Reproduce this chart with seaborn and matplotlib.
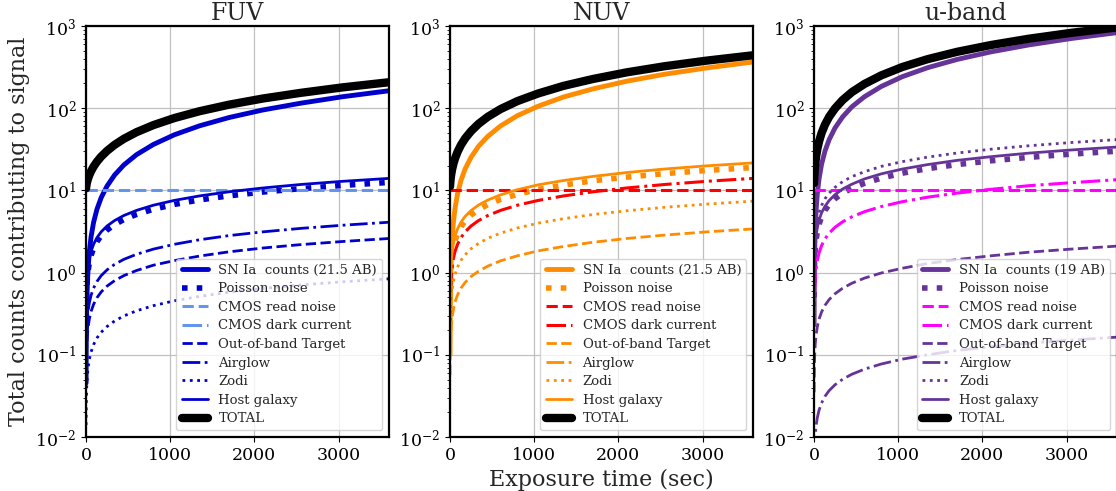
import numpy as np
import pandas as pd
import matplotlib
matplotlib.use("Agg")
import matplotlib.pyplot as plt
import seaborn as sns

# ---------------- data ----------------
times = [1, 3, 8, 15, 25, 40, 60, 90, 130, 180, 250, 340, 450, 600, 800,
         1050, 1350, 1700, 2100, 2550, 3050, 3600]

series_labels = ["SN Ia  counts", "Poisson noise", "CMOS read noise", "CMOS dark current",
                 "Out-of-band Target", "Airglow", "Zodi", "Host galaxy", "TOTAL"]
band_titles = ["FUV", "NUV", "u-band"]
sn_mags = ["21.5 AB", "21.5 AB", "19 AB"]

# FUV
fuv_sn = [0.0453, 0.136, 0.362, 0.679, 1.13, 1.81, 2.72, 4.08, 5.89, 8.15, 11.3,
          15.4, 20.4, 27.2, 36.2, 47.5, 61.1, 77.0, 95.1, 115, 138, 163]
fuv_poisson = [0.208, 0.361, 0.589, 0.807, 1.04, 1.32, 1.61, 1.98, 2.38, 2.80, 3.29,
               3.84, 4.42, 5.10, 5.89, 6.75, 7.66, 8.59, 9.55, 10.5, 11.5, 12.5]
fuv_read = [10, 10, 10, 10, 10, 10, 10, 10, 10, 10, 10,
            10, 10, 10, 10, 10, 10, 10, 10, 10, 10, 10]
fuv_dark = [0.0001, 0.00017, 0.00028, 0.00039, 0.0005, 0.00063, 0.00077, 0.00095, 0.00114, 0.00134, 0.00158,
            0.00184, 0.00212, 0.00245, 0.00283, 0.00324, 0.00367, 0.00412, 0.00458, 0.00505, 0.00552, 0.006]
fuv_oob = [0.0433, 0.0751, 0.123, 0.168, 0.217, 0.274, 0.336, 0.411, 0.494, 0.581, 0.685,
           0.799, 0.919, 1.06, 1.23, 1.40, 1.59, 1.79, 1.99, 2.19, 2.39, 2.6]
fuv_airglow = [0.0683, 0.118, 0.193, 0.265, 0.342, 0.432, 0.529, 0.648, 0.779, 0.917, 1.08,
               1.26, 1.45, 1.67, 1.93, 2.21, 2.51, 2.82, 3.13, 3.45, 3.77, 4.1]
fuv_zodi = [0.0140, 0.0243, 0.0396, 0.0542, 0.0700, 0.0885, 0.108, 0.133, 0.160, 0.188, 0.221,
            0.258, 0.297, 0.343, 0.396, 0.454, 0.514, 0.577, 0.642, 0.707, 0.773, 0.84]
fuv_host = [0.233, 0.404, 0.660, 0.904, 1.17, 1.48, 1.81, 2.21, 2.66, 3.13, 3.69,
            4.30, 4.95, 5.71, 6.60, 7.56, 8.57, 9.62, 10.7, 11.8, 12.9, 14.0]
fuv_total = [10.61, 11.12, 11.97, 12.88, 13.97, 15.40, 17.12, 19.46, 22.36, 25.76, 30.27,
             35.86, 42.44, 51.1, 62.25, 75.89, 91.95, 110.4, 131.1, 153.7, 179.3, 207.0]

# NUV
nuv_sn = [0.101, 0.304, 0.811, 1.52, 2.53, 4.06, 6.08, 9.13, 13.2, 18.3, 25.3,
          34.5, 45.6, 60.8, 81.1, 106, 137, 172, 213, 259, 309, 365]
nuv_poisson = [0.317, 0.549, 0.896, 1.23, 1.58, 2.00, 2.45, 3.00, 3.61, 4.25, 5.01,
               5.84, 6.72, 7.76, 8.96, 10.3, 11.6, 13.1, 14.5, 16.0, 17.5, 19.0]
nuv_read = [10, 10, 10, 10, 10, 10, 10, 10, 10, 10, 10,
            10, 10, 10, 10, 10, 10, 10, 10, 10, 10, 10]
nuv_dark = [0.233, 0.404, 0.660, 0.904, 1.17, 1.48, 1.81, 2.21, 2.66, 3.13, 3.69,
            4.30, 4.95, 5.71, 6.60, 7.56, 8.57, 9.62, 10.7, 11.8, 12.9, 14.0]
nuv_oob = [0.0567, 0.0981, 0.160, 0.219, 0.283, 0.358, 0.439, 0.538, 0.646, 0.760, 0.896,
           1.04, 1.20, 1.39, 1.60, 1.84, 2.08, 2.34, 2.60, 2.86, 3.13, 3.4]
nuv_airglow = [0.0001, 0.00017, 0.00028, 0.00039, 0.0005, 0.00063, 0.00077, 0.00095, 0.00114, 0.00134, 0.00158,
               0.00184, 0.00212, 0.00245, 0.00283, 0.00324, 0.00367, 0.00412, 0.00458, 0.00505, 0.00552, 0.006]
nuv_zodi = [0.123, 0.214, 0.349, 0.478, 0.617, 0.780, 0.955, 1.17, 1.41, 1.65, 1.95,
            2.27, 2.62, 3.02, 3.49, 4.00, 4.53, 5.09, 5.65, 6.23, 6.81, 7.4]
nuv_host = [0.360, 0.624, 1.02, 1.39, 1.80, 2.28, 2.79, 3.41, 4.10, 4.83, 5.69,
            6.64, 7.64, 8.82, 10.2, 11.7, 13.2, 14.8, 16.5, 18.2, 19.9, 21.6]
nuv_total = [11.19, 12.19, 13.89, 15.74, 17.98, 20.95, 24.52, 29.47, 35.63, 42.92, 52.53,
             64.6, 78.73, 97.5, 121.9, 151.3, 187.1, 226.9, 273.0, 324.0, 379.2, 440.4]

# u-band
u_sn = [0.231, 0.692, 1.84, 3.46, 5.76, 9.22, 13.8, 20.8, 30.0, 41.5, 57.6,
        78.4, 104, 138, 184, 242, 311, 392, 484, 588, 703, 830]
u_poisson = [0.500, 0.866, 1.41, 1.94, 2.50, 3.16, 3.87, 4.74, 5.70, 6.71, 7.91,
             9.22, 10.6, 12.2, 14.1, 16.2, 18.4, 20.6, 22.9, 25.2, 27.6, 30.0]
u_read = [10, 10, 10, 10, 10, 10, 10, 10, 10, 10, 10,
          10, 10, 10, 10, 10, 10, 10, 10, 10, 10, 10]
u_dark = [0.225, 0.390, 0.636, 0.871, 1.12, 1.42, 1.74, 2.13, 2.57, 3.02, 3.56,
          4.15, 4.77, 5.51, 6.36, 7.29, 8.27, 9.28, 10.3, 11.4, 12.4, 13.5]
u_oob = [0.0350, 0.0606, 0.0990, 0.136, 0.175, 0.221, 0.271, 0.332, 0.399, 0.470, 0.553,
         0.645, 0.743, 0.857, 0.990, 1.13, 1.29, 1.44, 1.60, 1.77, 1.93, 2.1]
u_airglow = [0.00273, 0.00473, 0.00773, 0.0106, 0.0137, 0.0173, 0.0212, 0.0259, 0.0312, 0.0367, 0.0432,
             0.0504, 0.0580, 0.0669, 0.0773, 0.0886, 0.100, 0.113, 0.125, 0.138, 0.151, 0.164]
u_zodi = [0.692, 1.20, 1.96, 2.68, 3.46, 4.37, 5.36, 6.56, 7.89, 9.28, 10.9,
          12.8, 14.7, 16.9, 19.6, 22.4, 25.4, 28.5, 31.7, 34.9, 38.2, 41.5]
u_host = [0.562, 0.973, 1.59, 2.18, 2.81, 3.55, 4.35, 5.33, 6.40, 7.54, 8.88,
          10.4, 11.9, 13.8, 15.9, 18.2, 20.6, 23.2, 25.7, 28.4, 31.0, 33.7]
u_total = [12.25, 14.18, 17.54, 21.27, 25.84, 31.97, 39.42, 49.92, 62.98, 78.55, 99.47,
           125.6, 156.8, 197.4, 251.0, 317.3, 395.1, 485.1, 586.4, 699.8, 824.3, 961]

bands = [
    [fuv_sn, fuv_poisson, fuv_read, fuv_dark, fuv_oob, fuv_airglow, fuv_zodi, fuv_host, fuv_total],
    [nuv_sn, nuv_poisson, nuv_read, nuv_dark, nuv_oob, nuv_airglow, nuv_zodi, nuv_host, nuv_total],
    [u_sn, u_poisson, u_read, u_dark, u_oob, u_airglow, u_zodi, u_host, u_total],
]

# ---------------- styles ----------------
main_colors = ["#0000CD", "#FF8C00", "#663399"]
cmos_colors = ["#6495ED", "#FF0000", "#FF00FF"]
linestyles = ["-", ":", "--", "-.", "--", "-.", ":", "-", "-"]
linewidths = [3.5, 4.0, 2.2, 2.2, 2.0, 2.0, 2.0, 2.0, 6.0]

sns.set_theme(style="whitegrid")
plt.rcParams.update({
    "font.family": ["DejaVu Serif"],
    "mathtext.fontset": "dejavuserif",
    "axes.edgecolor": "black",
    "axes.linewidth": 1.6,
    "grid.color": "#c0c0c0",
    "grid.linewidth": 0.9,
    "xtick.bottom": True,
    "ytick.left": True,
    "xtick.color": "black",
    "ytick.color": "black",
    "xtick.major.size": 3.5,
    "ytick.major.size": 3.5,
    "ytick.minor.size": 2.0,
    "xtick.major.width": 0.8,
    "ytick.major.width": 0.8,
    "ytick.minor.width": 0.6,
    "ytick.minor.visible": True,
})

W, H = 1116, 491
fig = plt.figure(figsize=(W / 100, H / 100), dpi=100)
lefts_px = [86, 450, 814]
ax_w_px, top_px, bot_px = 303, 26, 437
axes = []
for i in range(3):
    ax = fig.add_axes([lefts_px[i] / W, (H - bot_px) / H, ax_w_px / W, (bot_px - top_px) / H])
    axes.append(ax)

for i, ax in enumerate(axes):
    vals = bands[i]
    for j, lab in enumerate(series_labels):
        if j in (2, 3):
            col = cmos_colors[i]
        elif j == 8:
            col = "black"
        else:
            col = main_colors[i]
        label = f"{lab} ({sn_mags[i]})" if j == 0 else lab
        df = pd.DataFrame({"t": times, "v": vals[j]})
        sns.lineplot(data=df, x="t", y="v", ax=ax, color=col, linestyle=linestyles[j],
                     linewidth=linewidths[j], label=label)
    ax.set_yscale("log")
    ax.set_xlim(0, 3600)
    ax.set_ylim(1e-2, 1e3)
    ax.set_xticks([0, 1000, 2000, 3000])
    ax.set_title(band_titles[i], fontsize=17, pad=4)
    ax.tick_params(axis="both", labelsize=12.5)
    ax.set_xlabel("")
    ax.set_ylabel("")
    ax.grid(True, which="major")
    ax.grid(False, which="minor")
    for s in ax.spines.values():
        s.set_color("black")
        s.set_linewidth(1.6)
    ax.legend(loc="lower right", fontsize=9.5, labelspacing=0.42, framealpha=0.8)

axes[0].set_ylabel("Total counts contributing to signal", fontsize=16)
axes[1].set_xlabel("Exposure time (sec)", fontsize=16)

fig.savefig("out.png", dpi=100)
